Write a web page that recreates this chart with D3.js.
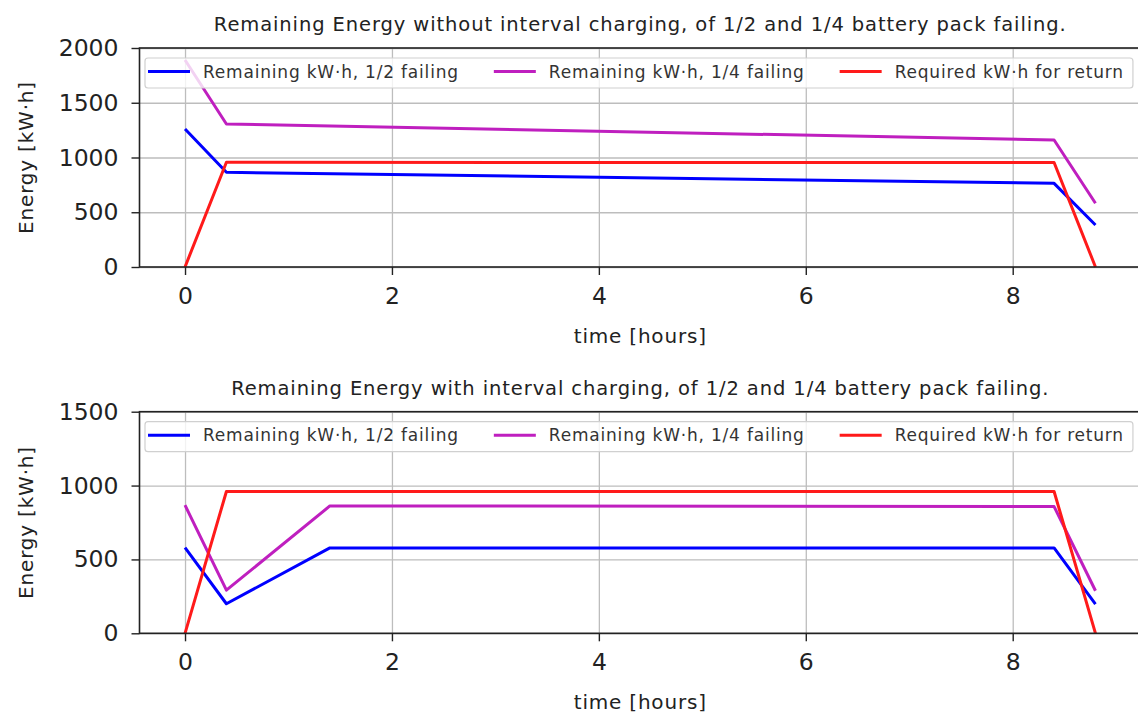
<!DOCTYPE html>
<html>
<head>
<meta charset="utf-8">
<script src="https://cdn.jsdelivr.net/npm/d3@7"></script>
<style>
  body { margin: 0; background: #fff; }
  svg { display: block; }
  svg text { font-family: "DejaVu Sans", sans-serif; }
</style>
</head>
<body>
<svg id="chart" width="1138" height="713"></svg>
<script>
// time stamps of the mission, hours
var timeNoCharge = [0, 0.4, 8.4, 8.8];
var timeCharge = [0, 0.4, 1.4, 8.4, 8.8];

// remaining energy without interval charging, kW·h
var halfFailNoCharge = [1260, 865, 764, 383];
var quarterFailNoCharge = [1890, 1306, 1160, 582];
var requiredNoCharge = [0, 956, 954, 0];

// remaining energy with interval charging, kW·h
var halfFailCharge = [580, 200, 578, 578, 198];
var quarterFailCharge = [867, 292, 862, 858, 288];
var requiredCharge = [0, 960, 960, 960, 0];

var xTicks = [0, 2, 4, 6, 8];
var yTicksTop = [0, 500, 1000, 1500, 2000];
var yTicksBottom = [0, 500, 1000, 1500];

var seriesNames = ["Remaining kW\u00b7h, 1/2 failing", "Remaining kW\u00b7h, 1/4 failing", "Required kW\u00b7h for return"];
var seriesColors = ["#0000ff", "#bf1fbf", "#ff1a1a"];

var svg = d3.select("#chart");

function panel(cfg) {
  var left = 139.5, right = 1141
    , top = cfg.top, bottom = cfg.bottom;

  var x = d3.scaleLinear().domain([-0.44, 9.24]).range([left, right]);
  var y = d3.scaleLinear().domain([0, cfg.yMax]).range([bottom, top]);

  var g = svg.append("g");

  // grid
  g.append("g")
    .attr("transform", "translate(0," + bottom + ")")
    .call(d3.axisBottom(x).tickValues(xTicks).tickSize(-(bottom - top)).tickFormat(""))
    .call(function(s) { s.select(".domain").remove(); })
    .selectAll("line").attr("stroke", "#bdbdbd").attr("stroke-width", 1.3);
  g.append("g")
    .attr("transform", "translate(" + left + ",0)")
    .call(d3.axisLeft(y).tickValues(cfg.yTicks).tickSize(-(right - left)).tickFormat(""))
    .call(function(s) { s.select(".domain").remove(); })
    .selectAll("line").attr("stroke", "#bdbdbd").attr("stroke-width", 1.3);

  // lines
  var line = d3.line()
    .x(function(d) { return x(d[0]); })
    .y(function(d) { return y(d[1]); });

  cfg.series.forEach(function(vals, i) {
    g.append("path")
      .datum(cfg.time.map(function(t, j) { return [t, vals[j]]; }))
      .attr("fill", "none")
      .attr("stroke", seriesColors[i])
      .attr("stroke-width", 3)
      .attr("stroke-linejoin", "round")
      .attr("d", line);
  });

  // frame
  g.append("rect")
    .attr("x", left).attr("y", top)
    .attr("width", right - left).attr("height", bottom - top)
    .attr("fill", "none").attr("stroke", "#222").attr("stroke-width", 1.6);

  // axes
  var xa = g.append("g")
    .attr("transform", "translate(0," + bottom + ")")
    .call(d3.axisBottom(x).tickValues(xTicks).tickSize(8).tickPadding(12).tickFormat(d3.format("d")));
  var ya = g.append("g")
    .attr("transform", "translate(" + left + ",0)")
    .call(d3.axisLeft(y).tickValues(cfg.yTicks).tickSize(8).tickPadding(13).tickFormat(d3.format("d")));
  [xa, ya].forEach(function(a) {
    a.attr("font-family", null);
    a.select(".domain").remove();
    a.selectAll("line").attr("stroke", "#222").attr("stroke-width", 1.4);
    a.selectAll("text").attr("fill", "#222").style("font-size", "23.5px");
  });

  // legend
  var lg = g.append("g");
  var box = lg.append("rect")
    .attr("y", top + 10).attr("height", 30)
    .attr("rx", 3)
    .attr("fill", "#fff").attr("fill-opacity", 0.8)
    .attr("stroke", "#d0d0d0").attr("stroke-width", 1.2);
  var bx = left + 5.5, cx = bx + 3, ly = top + 23.5;
  seriesNames.forEach(function(name, i) {
    lg.append("line")
      .attr("x1", cx).attr("x2", cx + 42)
      .attr("y1", ly).attr("y2", ly)
      .attr("stroke", seriesColors[i]).attr("stroke-width", 3);
    var t = lg.append("text")
      .attr("x", cx + 55).attr("y", ly + 6)
      .attr("fill", "#333")
      .style("font-size", "17px")
      .style("letter-spacing", "0.8px")
      .text(name);
    cx = cx + 55 + t.node().getComputedTextLength() + 35;
  });
  box.attr("x", bx).attr("width", cx - 35 + 9 - bx);

  // titles and labels
  g.append("text")
    .attr("x", (left + right) / 2).attr("y", top - 17)
    .attr("text-anchor", "middle").attr("fill", "#222")
    .style("font-size", "19.5px")
    .style("letter-spacing", "0.9px")
    .text(cfg.title);
  g.append("text")
    .attr("x", (left + right) / 2).attr("y", bottom + 76)
    .attr("text-anchor", "middle").attr("fill", "#222")
    .style("font-size", "20px")
    .style("letter-spacing", "0.8px")
    .text("time [hours]");
  g.append("text")
    .attr("transform", "translate(33," + (top + bottom) / 2 + ") rotate(-90)")
    .attr("text-anchor", "middle").attr("fill", "#222")
    .style("font-size", "20px")
    .style("letter-spacing", "0.8px")
    .text("Energy [kW\u00b7h]");
}

panel({
  top: 48, bottom: 267, yMax: 2000, yTicks: yTicksTop,
  time: timeNoCharge,
  series: [halfFailNoCharge, quarterFailNoCharge, requiredNoCharge],
  title: "Remaining Energy without interval charging, of 1/2 and 1/4 battery pack failing."
});

panel({
  top: 411.7, bottom: 633.3, yMax: 1500, yTicks: yTicksBottom,
  time: timeCharge,
  series: [halfFailCharge, quarterFailCharge, requiredCharge],
  title: "Remaining Energy with interval charging, of 1/2 and 1/4 battery pack failing."
});
</script>
</body>
</html>
